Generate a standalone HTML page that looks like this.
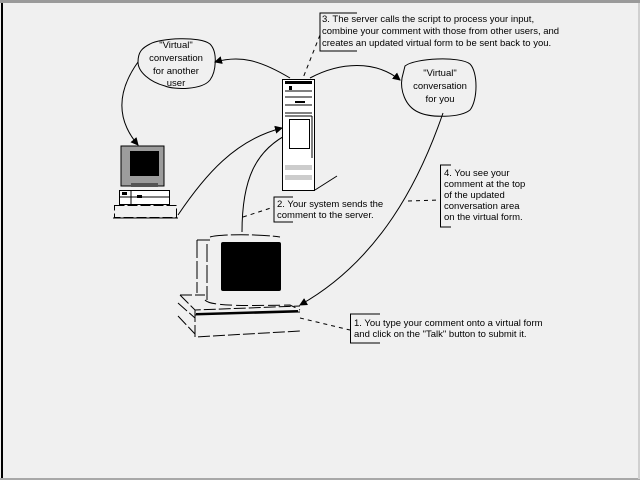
<!DOCTYPE html>
<html><head><meta charset="utf-8"><style>
html,body{margin:0;padding:0;background:#f0f0f0;}
svg{display:block;}
text{font-family:"Liberation Sans",sans-serif;font-size:9.5px;fill:#000;}
</style></head><body>
<svg width="640" height="480" viewBox="0 0 640 480" xmlns="http://www.w3.org/2000/svg">
<defs>
<marker id="ah" markerWidth="8" markerHeight="8" refX="7" refY="4" orient="auto" markerUnits="userSpaceOnUse">
<path d="M0,0 L8,4 L0,8 z" fill="#000"/></marker>
</defs>
<rect x="0" y="0" width="640" height="480" fill="#f0f0f0"/>
<rect x="0" y="0" width="640" height="3" fill="#9a9a9a"/>
<rect x="1" y="3" width="2" height="475" fill="#000"/>
<rect x="0" y="478" width="640" height="2" fill="#a8a8a8"/>
<rect x="638" y="3" width="2" height="476" fill="#d0d0d0"/>

<g fill="none" stroke="#000" stroke-width="1">
<path d="M150,44 C160,38 200,36 210,44 C218,52 216,72 210,80 C202,90 175,90 165,86 C150,82 138,72 138,62 C138,52 142,48 150,44 Z"/>
<path d="M405,66 C415,58 460,56 470,64 C478,72 478,100 470,110 C460,118 430,118 418,112 C405,106 400,90 402,78 Z"/>
<path d="M290,78 C260,60 240,55 215,62" marker-end="url(#ah)"/>
<path d="M310,78 C340,62 375,60 400,80" marker-end="url(#ah)"/>
<path d="M138,62 C118,90 115,118 138,145" marker-end="url(#ah)"/>
<path d="M178,215 C205,175 235,140 282,128" marker-end="url(#ah)"/>
<path d="M242,232 C242,180 255,150 290,133" marker-end="url(#ah)"/>
<path d="M443,113 C420,180 380,260 300,305" marker-end="url(#ah)"/>
<path d="M315,190 L337,176"/>
</g>
<g fill="none" stroke="#000" stroke-width="1" stroke-dasharray="4,4">
<path d="M320,35 L303,78"/>
<path d="M243,217 L274,207"/>
<path d="M408,201 L440,200"/>
<path d="M300,318 L350,330"/>
</g>

<g fill="none" stroke="#000">
<path d="M357,13 H320 V51 H357"/>
<path d="M293,197 H274 V222 H293"/>
<path d="M451,165 H440.5 V227 H451"/>
<path d="M380,314 H350.5 V343 H380"/>
</g>
<text x="322" y="22">3. The server calls the script to process your input,</text>
<text x="322" y="34">combine your comment with those from other users, and</text>
<text x="322" y="46">creates an updated virtual form to be sent back to you.</text>
<text x="277" y="207">2. Your system sends the</text>
<text x="277" y="218">comment to the server.</text>
<text x="444" y="176">4. You see your</text>
<text x="444" y="187">comment at the top</text>
<text x="444" y="198">of the updated</text>
<text x="444" y="209">conversation area</text>
<text x="444" y="220">on the virtual form.</text>
<text x="354" y="326">1. You type your comment onto a virtual form</text>
<text x="354" y="337">and click on the "Talk" button to submit it.</text>

<text x="176" y="48" text-anchor="middle">"Virtual"</text>
<text x="176" y="61" text-anchor="middle">conversation</text>
<text x="176" y="74" text-anchor="middle">for another</text>
<text x="176" y="86" text-anchor="middle">user</text>
<text x="440" y="76" text-anchor="middle">"Virtual"</text>
<text x="440" y="89" text-anchor="middle">conversation</text>
<text x="440" y="102" text-anchor="middle">for you</text>

<rect x="282.5" y="79.5" width="32" height="111" fill="#fff" stroke="#000"/>
<rect x="285" y="81" width="27" height="3" fill="#000"/>
<path d="M285,91 H312 M285,97 H312 M285,105 H312 M285,113 H312 M285,116 H312" stroke="#000" fill="none"/>
<rect x="289" y="86" width="3" height="4" fill="#000"/>
<rect x="295" y="101" width="10" height="2" fill="#000"/>
<rect x="289.5" y="119.5" width="20" height="29" fill="none" stroke="#000"/>
<path d="M312,116 V158" stroke="#000"/>
<rect x="285" y="165" width="27" height="5" fill="#ccc"/>
<rect x="285" y="175" width="27" height="5" fill="#ccc"/>

<rect x="121" y="146" width="43" height="40" fill="#9c9c9c" stroke="#000"/>
<rect x="130" y="151" width="29" height="25" fill="#000"/>
<rect x="131" y="183" width="27" height="4" fill="#555"/>
<rect x="119.5" y="190.5" width="50" height="14" fill="#fff" stroke="#000"/>
<path d="M120,197 H169 M131,191 V204" stroke="#000"/>
<rect x="122" y="192" width="5" height="3" fill="#000"/>
<rect x="137" y="195" width="5" height="3" fill="#000"/>
<rect x="114.5" y="205.5" width="62" height="12" fill="#f0f0f0" stroke="#000" stroke-dasharray="10,3"/>
<path d="M113,218 H178" stroke="#000"/>

<g fill="none" stroke="#000">
<path d="M207,244 V300 M197,240 V293 M197,240 H210 M210,237 C220,234 260,234 280,237" stroke-dasharray="18,3"/>
<path d="M205,300 C210,306 240,306 290,305 L300,310" stroke-dasharray="12,4"/>
<path d="M180,295 H205 M180,295 L195,310 L300,306 M178,303 L195,318 M195,310 V337 L300,331 M178,316 L195,334" stroke-dasharray="12,3"/>
<path d="M195,315 L300,312" />
</g>
<rect x="221" y="242" width="60" height="49" rx="2" fill="#000"/>
<path d="M196,314 L298,311" stroke="#000" stroke-width="2"/>
</svg>
</body></html>
